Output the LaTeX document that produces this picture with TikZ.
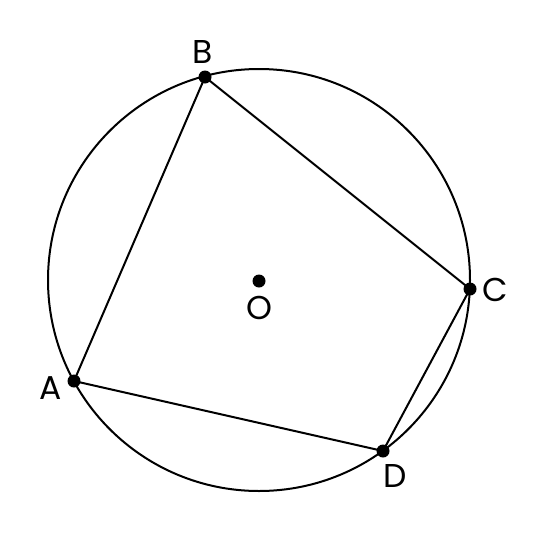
\documentclass[tikz,border=0pt]{standalone}
\usepackage{fontspec}
\setmainfont{Poppins}
\begin{document}
\begin{tikzpicture}[x=1pt,y=-1pt,
  pt/.style={circle,fill=black,inner sep=0pt,minimum size=13pt},
  lbl/.style={font=\fontsize{33}{36}\selectfont,inner sep=0pt},
  edge/.style={line width=2pt}]
\useasboundingbox (0,0) rectangle (546,533);
\coordinate (Oc) at (259,280);
\draw[edge] (Oc) circle[radius=211];
\node[pt] (A) at (74,381) {};
\node[pt] (B) at (205,77) {};
\node[pt] (C) at (470,289) {};
\node[pt] (D) at (383,451) {};
\node[pt] (O) at (259,281) {};
\draw[edge] (A.center) -- (B.center) -- (C.center) -- (D.center) -- (A.center);
\node[lbl] (lA) at (51,388) {A};
\node[lbl] (lB) at (203,52) {B};
\node[lbl] (lC) at (495,290) {C};
\node[lbl] (lD) at (395,476) {D};
\node[lbl] (lO) at (259,308) {O};
\end{tikzpicture}
\end{document}
